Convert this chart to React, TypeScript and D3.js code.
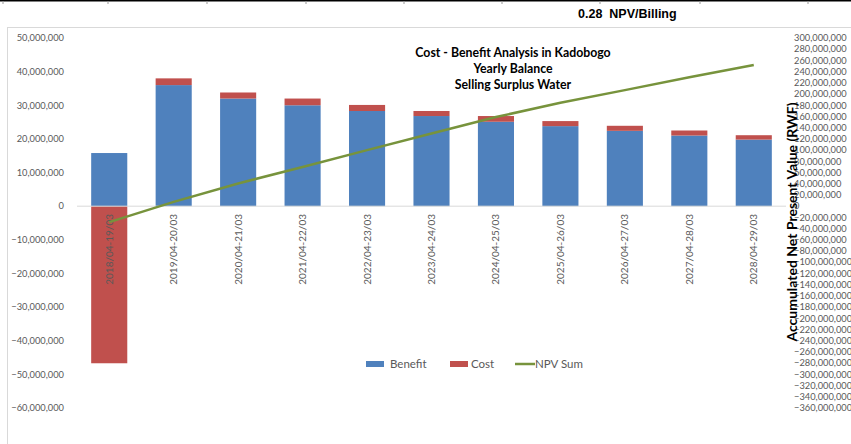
import React from "react";
import * as d3 from "d3";

// Yearly periods
const periods = [
  "2018/04-19/03",
  "2019/04-20/03",
  "2020/04-21/03",
  "2021/04-22/03",
  "2022/04-23/03",
  "2023/04-24/03",
  "2024/04-25/03",
  "2025/04-26/03",
  "2026/04-27/03",
  "2027/04-28/03",
  "2028/04-29/03",
];

// Yearly balance (RWF)
const benefit = [15.8e6, 36.0e6, 32.0e6, 30.0e6, 28.3e6, 26.8e6, 25.1e6, 23.8e6, 22.4e6, 21.0e6, 19.8e6];
const cost = [-46.7e6, 2.0e6, 1.8e6, 2.0e6, 1.8e6, 1.5e6, 1.7e6, 1.5e6, 1.5e6, 1.5e6, 1.3e6];

// Accumulated net present value (RWF)
const npvSum = [-28.5e6, 7.7e6, 40.5e6, 70e6, 100e6, 129.8e6, 159e6, 184.5e6, 207e6, 230e6, 251.8e6];

// Axis ticks
const leftTicks = [50e6, 40e6, 30e6, 20e6, 10e6, 0, -10e6, -20e6, -30e6, -40e6, -50e6, -60e6];
const rightTicks = d3.range(300e6, -360e6 - 1, -20e6);

const titleLines = ["Cost - Benefit Analysis in Kadobogo", "Yearly Balance", "Selling Surplus Water"];
const ratioLabel = "0.28  NPV/Billing";
const rightAxisTitle = "Accumulated Net Present Value (RWF)";
const legendItems = ["Benefit", "Cost", "NPV Sum"];

const W = 851;
const H = 444;
const FONT = "Lato, 'Open Sans', sans-serif";
const BLUE = "#4F81BD";
const RED = "#C0504D";
const GREEN = "#77933C";
const GRAY_TEXT = "#595959";

const fmt = d3.format(",");

export default function App() {
  const x = d3
    .scaleBand<string>()
    .domain(periods)
    .range([77, 786])
    .paddingInner(0.44)
    .paddingOuter(0.22);
  const yL = d3.scaleLinear().domain([-60e6, 50e6]).range([408, 38]);
  const yR = d3.scaleLinear().domain([-360e6, 300e6]).range([408, 38]);

  const line = d3
    .line<number>()
    .x((_, i) => (x(periods[i]) as number) + x.bandwidth() / 2)
    .y((d) => yR(d));

  const tableTicks = [3, 108, 207, 306, 404, 502, 600, 700, 808];

  return (
    <svg
      width={W}
      height={H}
      style={{ position: "absolute", left: 0, top: 0, background: "#fff" }}
      fontFamily={FONT}
    >
      {/* table rule above the chart */}
      <line x1={0} x2={W} y1={0.75} y2={0.75} stroke="#000" strokeWidth={1.5} />
      {tableTicks.map((tx) => (
        <line key={tx} x1={tx} x2={tx} y1={1} y2={4} stroke="#999" strokeWidth={1} />
      ))}
      <text x={578} y={18} fontFamily="Arial, 'Liberation Sans', sans-serif" fontWeight="bold" fontSize={12.5} fill="#000" xmlSpace="preserve">
        {ratioLabel}
      </text>

      {/* chart frame */}
      <rect x={7.5} y={27.5} width={W} height={H} fill="#fff" stroke="#d9d9d9" strokeWidth={1} />

      {/* left axis labels */}
      {leftTicks.map((t) => (
        <text key={t} x={64} y={yL(t)} dy="0.35em" textAnchor="end" fontSize={9.3} fill={GRAY_TEXT}>
          {fmt(t)}
        </text>
      ))}

      {/* right axis labels */}
      {rightTicks.map((t) => (
        <text key={t} x={794} y={yR(t)} dy="0.35em" textAnchor="start" fontSize={9.3} fill={GRAY_TEXT}>
          {fmt(t)}
        </text>
      ))}

      {/* bars */}
      {periods.map((p, i) => {
        const bx = x(p) as number;
        const bw = x.bandwidth();
        const b = benefit[i];
        const c = cost[i];
        const costBase = c < 0 ? 0 : b;
        const costTop = costBase + c;
        return (
          <g key={p}>
            <rect x={bx} y={yL(Math.max(0, b))} width={bw} height={Math.abs(yL(0) - yL(b))} fill={BLUE} />
            <rect
              x={bx}
              y={yL(Math.max(costBase, costTop))}
              width={bw}
              height={Math.abs(yL(costBase) - yL(costTop))}
              fill={RED}
            />
          </g>
        );
      })}

      {/* zero axis */}
      <line x1={77} x2={786} y1={yL(0)} y2={yL(0)} stroke="#d9d9d9" strokeWidth={1} />

      {/* category labels */}
      {periods.map((p) => {
        const cx = (x(p) as number) + x.bandwidth() / 2;
        return (
          <text
            key={p}
            transform={`translate(${cx + 3.5},214) rotate(-90)`}
            textAnchor="end"
            fontSize={10}
            fill={GRAY_TEXT}
          >
            {p}
          </text>
        );
      })}

      {/* NPV line */}
      <path d={line(npvSum) as string} fill="none" stroke={GREEN} strokeWidth={2.5} />

      {/* title */}
      {titleLines.map((t, i) => (
        <text key={t} x={513} y={57 + i * 16} textAnchor="middle" fontWeight="bold" fontSize={12.3} fill="#000">
          {t}
        </text>
      ))}

      {/* right axis title */}
      <text transform="translate(797,222) rotate(-90)" textAnchor="middle" fontWeight="bold" fontSize={14} fill="#000">
        {rightAxisTitle}
      </text>

      {/* legend */}
      <g fontSize={11.5} fill={GRAY_TEXT}>
        <rect x={366} y={361} width={18} height={6} fill={BLUE} />
        <text x={390} y={368}>{legendItems[0]}</text>
        <rect x={450} y={361} width={18} height={6} fill={RED} />
        <text x={471} y={368}>{legendItems[1]}</text>
        <line x1={515} x2={535} y1={364} y2={364} stroke={GREEN} strokeWidth={2.5} />
        <text x={535} y={368}>{legendItems[2]}</text>
      </g>
    </svg>
  );
}
